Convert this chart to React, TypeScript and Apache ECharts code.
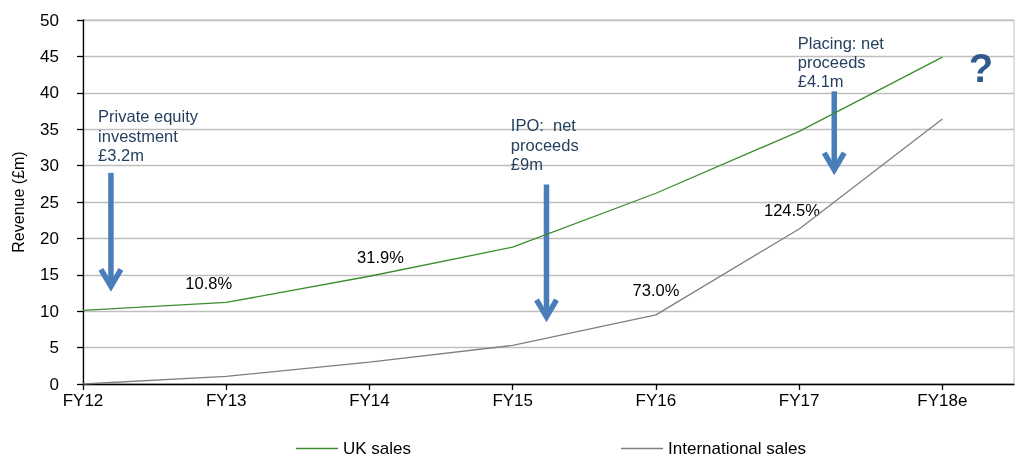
import React, { useEffect, useRef } from "react";
import * as echarts from "echarts";

const categories = ["FY12", "FY13", "FY14", "FY15", "FY16", "FY17", "FY18e"];
const ukSales = [10.1, 11.2, 14.8, 18.8, 26.2, 34.7, 44.9];
const intlSales = [0, 1.05, 3.0, 5.3, 9.5, 21.3, 36.4];
const yTicks = [0, 5, 10, 15, 20, 25, 30, 35, 40, 45, 50];

const growthLabels = ["10.8%", "31.9%", "73.0%", "124.5%"];
const growthAt = [
  [0.878, 13.9],
  [2.077, 17.5],
  [4.0, 12.95],
  [4.95, 23.9],
];

const notes = [
  "Private equity\ninvestment\n£3.2m",
  "IPO:  net\nproceeds\n£9m",
  "Placing: net\nproceeds\n£4.1m",
];
const noteAt = [
  [0.105, 38.1],
  [2.987, 36.85],
  [4.99, 48.2],
];
// arrows: [x, top, tip] in data units
const arrows = [
  [0.195, 29.0, 13.0],
  [3.236, 27.4, 8.8],
  [5.245, 40.2, 29.0],
];
const questionAt = [6.27, 43.4];

const FONT = "Liberation Sans, Arial, sans-serif";
const NOTE_COLOR = "#243F60";
const ARROW_COLOR = "#4A7EBB";

export default function App() {
  const ref = useRef<HTMLDivElement>(null);

  useEffect(() => {
    if (!ref.current) return;
    const chart = echarts.init(ref.current, undefined, { renderer: "svg" });
    const intIdx = categories.map((_, i) => i);
    chart.setOption({
      animation: false,
      textStyle: { fontFamily: FONT },
      grid: {
        left: 83,
        right: 4,
        top: 20,
        bottom: 74,
        containLabel: false,
        outerBoundsMode: "none",
        show: true,
        borderColor: "#BFBFBF",
        borderWidth: 1,
        backgroundColor: "transparent",
      },
      xAxis: {
        type: "value",
        min: 0,
        max: 6.5,
        interval: 1,
        axisLine: { show: true, lineStyle: { color: "#000", width: 1.3 } },
        axisTick: {
          show: true,
          length: 6,
          inside: false,
          customValues: intIdx,
          lineStyle: { color: "#000", width: 1.3 },
        },
        axisLabel: {
          customValues: intIdx,
          formatter: (v: number) => categories[Math.round(v)] ?? "",
          fontSize: 17,
          color: "#000",
          margin: 8,
          fontFamily: FONT,
        },
        splitLine: { show: false },
      },
      yAxis: {
        type: "value",
        min: 0,
        max: 50,
        interval: 5,
        name: "Revenue (£m)",
        nameLocation: "middle",
        nameGap: 57,
        nameRotate: 90,
        nameTextStyle: { fontSize: 16, color: "#000", fontFamily: FONT },
        axisLine: { show: true, lineStyle: { color: "#000", width: 1.3 } },
        axisTick: { show: true, length: 6, lineStyle: { color: "#000", width: 1.3 } },
        axisLabel: {
          fontSize: 17,
          color: "#000",
          margin: 24,
          fontFamily: FONT,
          formatter: (v: number) => (yTicks.includes(v) ? String(v) : ""),
        },
        splitLine: { show: true, lineStyle: { color: "#BFBFBF", width: 1.3 } },
      },
      legend: {
        left: 296,
        top: 440,
        padding: 0,
        itemGap: 210,
        itemWidth: 42,
        itemHeight: 1.5,
        icon: "rect",
        textStyle: { fontSize: 17, color: "#000", fontFamily: FONT },
        data: ["UK sales", "International sales"],
      },
      series: [
        {
          name: "UK sales",
          type: "line",
          data: ukSales.map((v, i) => [i, v]),
          symbol: "none",
          lineStyle: { color: "#3C8D2F", width: 1.3 },
          itemStyle: { color: "#3C8D2F" },
        },
        {
          name: "International sales",
          type: "line",
          data: intlSales.map((v, i) => [i, v]),
          symbol: "none",
          lineStyle: { color: "#7F7F7F", width: 1.3 },
          itemStyle: { color: "#7F7F7F" },
        },
      ],
    });

    const px = (x: number, y: number) =>
      chart.convertToPixel({ gridIndex: 0 }, [x, y]) as number[];

    const graphics: any[] = [];
    growthLabels.forEach((t, i) => {
      const p = px(growthAt[i][0], growthAt[i][1]);
      graphics.push({
        type: "text",
        x: p[0],
        y: p[1],
        style: {
          text: t,
          fontSize: 16.5,
          fontFamily: FONT,
          fill: "#000",
          align: "center",
          verticalAlign: "middle",
        },
      });
    });
    notes.forEach((t, i) => {
      const p = px(noteAt[i][0], noteAt[i][1]);
      graphics.push({
        type: "text",
        x: p[0],
        y: p[1],
        style: {
          text: t,
          fontSize: 16.5,
          lineHeight: 19.3,
          fontFamily: FONT,
          fill: NOTE_COLOR,
          align: "left",
          verticalAlign: "top",
        },
      });
    });
    arrows.forEach((a) => {
      const top = px(a[0], a[1]);
      const tip = px(a[0], a[2]);
      graphics.push({
        type: "line",
        shape: { x1: top[0], y1: top[1], x2: tip[0], y2: tip[1] - 4 },
        style: { stroke: ARROW_COLOR, lineWidth: 5.5 },
      });
      graphics.push({
        type: "polyline",
        shape: {
          points: [
            [tip[0] - 10, tip[1] - 20],
            [tip[0], tip[1] - 3],
            [tip[0] + 10, tip[1] - 20],
          ],
        },
        style: {
          stroke: ARROW_COLOR,
          lineWidth: 5.5,
          fill: "none",
          lineJoin: "miter",
          lineCap: "butt",
        },
      });
    });
    const q = px(questionAt[0], questionAt[1]);
    graphics.push({
      type: "text",
      x: q[0],
      y: q[1],
      style: {
        text: "?",
        fontSize: 40,
        fontWeight: "bold",
        fontFamily: FONT,
        fill: "#30598C",
        align: "center",
        verticalAlign: "middle",
      },
    });
    chart.setOption({ graphic: graphics });

    return () => chart.dispose();
  }, []);

  return (
    <div
      ref={ref}
      style={{ position: "fixed", left: 0, top: 0, width: 1018, height: 458 }}
    />
  );
}
